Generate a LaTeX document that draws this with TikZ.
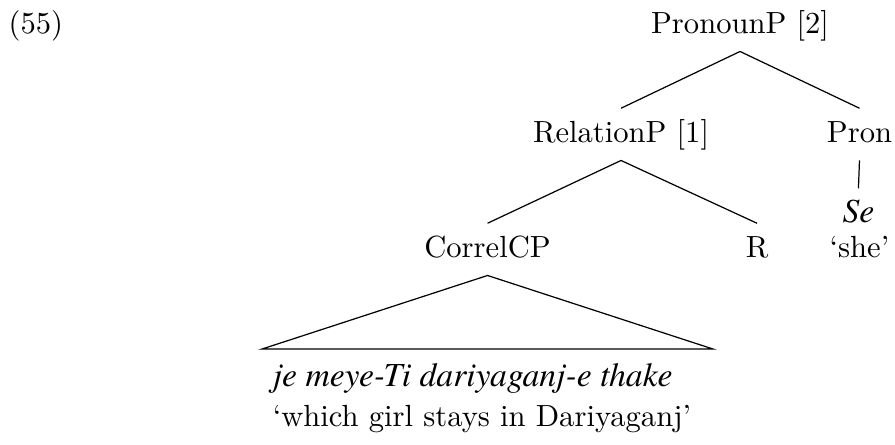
\documentclass[tikz,border=0pt]{standalone}
\usepackage{fontspec}
\usepackage{tikz}
\newfontfamily\objfont[Scale=1.1]{texgyretermes-italic.otf}

\begin{document}
\begin{tikzpicture}[scale=1,
    cat/.style={anchor=base, text height=7.5pt, text depth=2.5pt},
    line/.style={anchor=base west}]
    \useasboundingbox (0,0) rectangle (10.28,-5.10);

    % example number
    \node[anchor=base west, inner sep=0] (exnum) at (0.092,-0.379) {(55)};

    % category nodes
    \node[cat] (pronp)  at (8.500,-0.379) {PronounP [2]};
    \node[cat] (relp)   at (7.133,-1.631) {RelationP [1]};
    \node[cat] (pron)   at (9.872,-1.631) {Pron};
    \node[cat] (correl) at (5.600,-2.952) {CorrelCP};
    \node[cat] (rel)    at (8.695,-2.952) {R};
    \node[cat] (se)     at (9.860,-2.550) {\objfont Se};
    \node[anchor=base] (she) at (9.872,-2.952) {`she'};

    % branches
    \draw (pronp.south) -- (relp.north);
    \draw (pronp.south) -- (pron.north);
    \draw (relp.south) -- (correl.north);
    \draw (relp.south) -- (rel.north);
    \draw (pron.south) -- (se.north);

    % triangle over the clause
    \coordinate (TL) at (3.009,-4.009);
    \coordinate (TR) at (8.190,-4.009);
    \draw (TL) -- (correl.south) -- (TR) -- cycle;

    % clause and its gloss
    \node[line] (clause) at (3.009,-4.434) {\objfont je meye-Ti dariyaganj-e thake};
    \node[line] (gloss)  at (3.009,-4.900) {`which girl stays in Dariyaganj'};
\end{tikzpicture}
\end{document}
